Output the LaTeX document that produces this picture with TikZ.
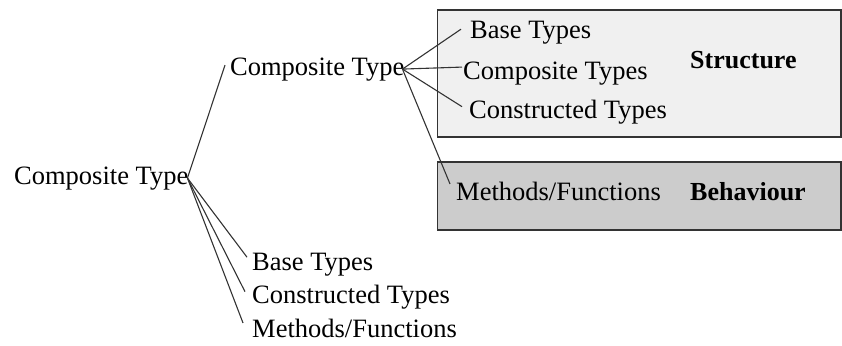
\documentclass[tikz,border=0pt]{standalone}
\usepackage{fontspec}
\setmainfont{Liberation Serif}
\definecolor{lightbox}{gray}{0.94}
\definecolor{darkbox}{gray}{0.80}
\definecolor{linecol}{gray}{0.2}
\begin{document}
\begin{tikzpicture}[x=1pt,y=-1pt,
  lbl/.style={inner sep=0pt,anchor=base west,font=\fontsize{26.5}{31}\selectfont},
  blbl/.style={lbl,font=\fontsize{26}{31}\selectfont\bfseries},
  conn/.style={draw=linecol,line width=1.1pt},
  panel/.style={draw=linecol,line width=1.3pt}]
\useasboundingbox (0,0) rectangle (842,345);
% panels
\path[panel,fill=lightbox] (437.5,10) rectangle (841,137);
\path[panel,fill=darkbox] (437.5,162) rectangle (841,230);
% nodes
\node[lbl] (ct1) at (14,184) {Composite Type};
\node[lbl] (ct2) at (230,75) {Composite Type};
\node[lbl] (sbt) at (470,39) {Base Types};
\node[lbl] (sct) at (463,79) {Composite Types};
\node[lbl] (scn) at (469,118) {Constructed Types};
\node[blbl] (str) at (690,68) {Structure};
\node[lbl] (smf) at (456,200) {Methods/Functions};
\node[blbl] (beh) at (690,200) {Behaviour};
\node[lbl] (bbt) at (252,270) {Base Types};
\node[lbl] (bcn) at (252,303) {Constructed Types};
\node[lbl] (bmf) at (252,337) {Methods/Functions};
% connectors
\draw[conn] ([xshift=-1pt]ct1.east) -- ([xshift=-5pt,yshift=4pt]ct2.west);
\draw[conn] ([xshift=-1pt]ct1.east) -- ([xshift=-5pt,yshift=7pt]bbt.west);
\draw[conn] ([xshift=-1pt]ct1.east) -- ([xshift=-7pt,yshift=5pt]bcn.west);
\draw[conn] ([xshift=-1pt]ct1.east) -- ([xshift=-9pt,yshift=5pt]bmf.west);
\draw[conn] ([xshift=-2pt]ct2.east) -- ([xshift=-9pt,yshift=4pt]sbt.west);
\draw[conn] ([xshift=-2pt]ct2.east) -- ([xshift=-1pt,yshift=6pt]sct.west);
\draw[conn] ([xshift=-2pt]ct2.east) -- ([xshift=-7pt,yshift=5pt]scn.west);
\draw[conn] ([xshift=-2pt]ct2.east) -- ([xshift=-6pt,yshift=7pt]smf.west);
\end{tikzpicture}
\end{document}
